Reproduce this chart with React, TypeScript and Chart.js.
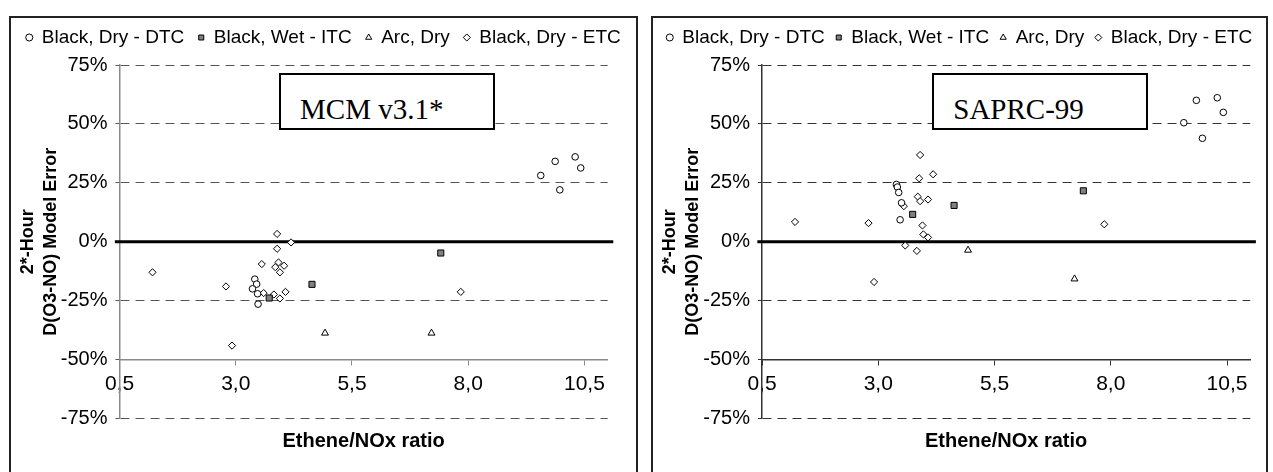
import React, { useEffect, useRef } from 'react';
import { Chart, registerables } from 'chart.js';

Chart.register(...registerables);

const FONT = "'Liberation Sans', Arial, Helvetica, sans-serif";

// ---- shared labels / ticks ----
const legendLabels = ['Black, Dry - DTC', 'Black, Wet - ITC', 'Arc, Dry', 'Black, Dry - ETC'];
const xTicks = [0.5, 3.0, 5.5, 8.0, 10.5];
const xTitle = 'Ethene/NOx ratio';
const yTitle = ['2*-Hour', 'D(O3-NO) Model Error'];
const zeroLineX = [0.4, 11.12];
const zeroLineY = [0, 0];

// ---- MCM v3.1* ----
const mcmDtcX = [3.41, 3.45, 3.36, 3.47, 3.48, 9.87, 10.3, 10.42, 9.56, 9.97];
const mcmDtcY = [-15.9, -18.0, -20.0, -22.1, -26.5, 34.1, 36.0, 31.3, 28.1, 22.0];
const mcmItcX = [3.72, 4.64, 7.41];
const mcmItcY = [-23.9, -18.1, -4.8];
const mcmArcX = [4.92, 7.21];
const mcmArcY = [-38.8, -38.8];
const mcmEtcX = [1.21, 2.79, 2.92, 3.89, 3.89, 4.19, 3.56, 3.85, 3.92, 4.04, 3.95, 3.6, 3.82, 3.95, 4.07, 7.84];
const mcmEtcY = [-13.0, -19.0, -44.1, 3.3, -3.0, -0.3, -9.5, -10.8, -8.8, -10.2, -13.0, -21.8, -22.4, -24.1, -21.3, -21.3];

// ---- SAPRC-99 ----
const sapDtcX = [3.39, 3.41, 3.44, 3.5, 3.47, 9.84, 10.29, 10.42, 9.57, 9.97];
const sapDtcY = [24.3, 23.2, 20.9, 16.5, 9.3, 60.0, 61.1, 54.9, 50.5, 43.9];
const sapItcX = [3.74, 4.63, 7.41];
const sapItcY = [11.6, 15.4, 21.6];
const sapArcX = [4.93, 7.22];
const sapArcY = [-3.6, -15.8];
const sapEtcX = [1.21, 2.79, 2.91, 3.9, 3.88, 4.18, 3.85, 3.9, 4.07, 3.95, 3.97, 4.07, 3.58, 3.83, 3.55, 7.86];
const sapEtcY = [8.4, 7.9, -17.1, 36.8, 26.9, 28.6, 19.1, 17.2, 17.9, 6.9, 3.1, 1.8, -1.6, -3.9, 15.1, 7.4];

const toPts = (xs: number[], ys: number[]) => xs.map((x, i) => ({ x, y: ys[i] }));

type PanelProps = {
  dtc: [number[], number[]];
  itc: [number[], number[]];
  arc: [number[], number[]];
  etc: [number[], number[]];
  width: number;
  height: number;
  axisLeft: number;
  padRight: number;
  legendPad: number;
  axisColor: string;
  gridColor: string;
};

function buildConfig(p: PanelProps): any {
  const common = { borderColor: '#000', pointBorderColor: '#000', borderWidth: 1, pointBorderWidth: 1 };
  return {
    type: 'scatter',
    data: {
      datasets: [
        { label: legendLabels[0], data: toPts(p.dtc[0], p.dtc[1]), pointStyle: 'circle', pointRadius: 3.3, backgroundColor: '#fff', pointBackgroundColor: '#fff', ...common },
        { label: legendLabels[1], data: toPts(p.itc[0], p.itc[1]), pointStyle: 'rect', pointRadius: 4.3, backgroundColor: '#808080', pointBackgroundColor: '#808080', ...common },
        { label: legendLabels[2], data: toPts(p.arc[0], p.arc[1]), pointStyle: 'triangle', pointRadius: 4, backgroundColor: '#fff', pointBackgroundColor: '#fff', ...common },
        { label: legendLabels[3], data: toPts(p.etc[0], p.etc[1]), pointStyle: 'rectRot', pointRadius: 3.6, backgroundColor: '#fff', pointBackgroundColor: '#fff', ...common },
        { label: 'zero', data: toPts(zeroLineX, zeroLineY), showLine: true, borderColor: '#000', borderWidth: 3, pointRadius: 0, clip: false },
      ],
    },
    options: {
      responsive: false,
      animation: false,
      devicePixelRatio: 1,
      events: [],
      layout: { padding: { top: 10 - p.legendPad, left: 0, right: 0, bottom: 0 } },
      plugins: {
        legend: {
          display: true,
          position: 'top',
          weight: 1000,
          labels: {
            usePointStyle: true,
            boxWidth: 6,
            boxHeight: 5,
            padding: p.legendPad,
            color: '#000',
            font: { family: FONT, size: 19 },
            filter: (item: any) => item.datasetIndex < 4,
          },
        },
        title: { display: true, text: '', weight: 500, font: { size: 1 }, padding: { top: 0, bottom: 6.8 } },
        tooltip: { enabled: false },
      },
      scales: {
        x: {
          type: 'linear',
          min: 0.5,
          max: 11,
          position: { y: -50 },
          afterBuildTicks: (s: any) => {
            s.ticks = xTicks.map((v) => ({ value: v }));
          },
          ticks: {
            callback: (v: any) => Number(v).toFixed(1).replace('.', ','),
            color: '#000',
            font: { family: FONT, size: 21 },
            padding: 7,
            maxRotation: 0,
          },
          grid: { drawOnChartArea: false, drawTicks: true, tickLength: 5, tickColor: p.axisColor, tickWidth: 1 },
          border: { display: true, color: p.axisColor, width: 1.5 },
        },
        x2: {
          type: 'linear',
          axis: 'x',
          position: 'bottom',
          min: 0.5,
          max: 11,
          ticks: { display: false },
          grid: { display: false },
          border: { display: false },
          title: {
            display: true,
            text: xTitle,
            color: '#000',
            font: { family: FONT, size: 20, weight: 'bold' },
            padding: { top: 0, bottom: 18.4 },
          },
          afterFit: (s: any) => {
            s.height = 53.6;
          },
        },
        y: {
          type: 'linear',
          position: 'left',
          min: -75,
          max: 75,
          ticks: {
            stepSize: 25,
            callback: (v: any) => `${v}%`,
            color: '#000',
            font: { family: FONT, size: 20 },
            padding: 8,
          },
          grid: { color: p.gridColor, lineWidth: 1, tickLength: 4, tickColor: p.gridColor, tickBorderDash: [] },
          border: { display: true, color: p.axisColor, width: 1.5, dash: [9, 6] },
          title: {
            display: true,
            text: yTitle,
            color: '#000',
            font: { family: FONT, size: 18, weight: 'bold', lineHeight: 1.3 },
            padding: { top: 5, bottom: 0 },
          },
          afterFit: (s: any) => {
            s.width = p.axisLeft;
          },
        },
        ySpacer: {
          type: 'linear',
          axis: 'y',
          position: 'right',
          min: -75,
          max: 75,
          ticks: { display: false },
          grid: { display: false },
          border: { display: false },
          afterFit: (s: any) => {
            s.width = p.padRight;
          },
        },
      },
    },
  };
}

function ScatterPanel(props: PanelProps) {
  const ref = useRef<HTMLCanvasElement>(null);
  useEffect(() => {
    if (!ref.current) return;
    const chart = new Chart(ref.current, buildConfig(props));
    return () => chart.destroy();
  }, []);
  return (
    <canvas
      ref={ref}
      width={props.width}
      height={props.height}
      style={{ display: 'block', width: props.width, height: props.height }}
    />
  );
}

const frameStyle: React.CSSProperties = {
  position: 'absolute',
  top: 16,
  height: 470,
  border: '2px solid #222',
  boxSizing: 'border-box',
  background: '#fff',
};

const boxStyle: React.CSSProperties = {
  position: 'absolute',
  top: 73,
  width: 216,
  height: 57,
  border: '2px solid #000',
  boxSizing: 'border-box',
  background: '#fff',
  fontFamily: "'Liberation Serif', 'Times New Roman', serif",
  fontSize: 29,
  lineHeight: '69px',
  paddingLeft: 19,
  whiteSpace: 'nowrap',
  color: '#000',
};

export default function App() {
  return (
    <div style={{ position: 'fixed', left: 0, top: 0, width: 1273, height: 472, overflow: 'hidden', background: '#fff' }}>
      <div style={{ ...frameStyle, left: 9, width: 629 }}>
        <ScatterPanel
          dtc={[mcmDtcX, mcmDtcY]}
          itc={[mcmItcX, mcmItcY]}
          arc={[mcmArcX, mcmArcY]}
          etc={[mcmEtcX, mcmEtcY]}
          width={625}
          height={454}
          axisLeft={108.5}
          padRight={28.3}
          legendPad={14}
          axisColor="#8a8a8a"
          gridColor="#555"
        />
      </div>
      <div style={{ ...frameStyle, left: 651, width: 617 }}>
        <ScatterPanel
          dtc={[sapDtcX, sapDtcY]}
          itc={[sapItcX, sapItcY]}
          arc={[sapArcX, sapArcY]}
          etc={[sapEtcX, sapEtcY]}
          width={613}
          height={454}
          axisLeft={109}
          padRight={15.7}
          legendPad={11}
          axisColor="#333"
          gridColor="#333"
        />
      </div>
      <div style={{ ...boxStyle, left: 279 }}>MCM v3.1*</div>
      <div style={{ ...boxStyle, left: 932, paddingLeft: 19.3 }}>SAPRC-99</div>
    </div>
  );
}
